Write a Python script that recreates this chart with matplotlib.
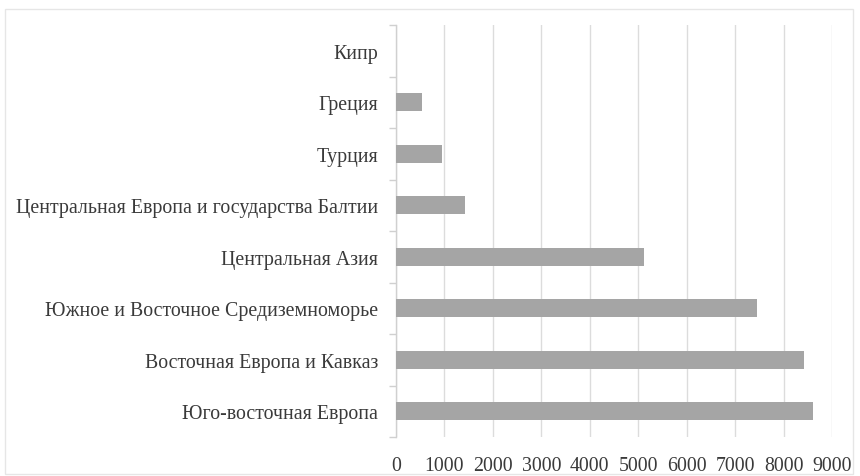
import matplotlib
matplotlib.use("Agg")
import matplotlib.pyplot as plt
from matplotlib.patches import Rectangle

categories = [
    "Юго-восточная Европа",
    "Восточная Европа и Кавказ",
    "Южное и Восточное Средиземноморье",
    "Центральная Азия",
    "Центральная Европа и государства Балтии",
    "Турция",
    "Греция",
    "Кипр",
]
values = [8616, 8423, 7452, 5117, 1432, 957, 530, 0]
xticks = [0, 1000, 2000, 3000, 4000, 5000, 6000, 7000, 8000, 9000]

plt.rcParams['font.family'] = ['Liberation Serif', 'DejaVu Serif']

fig = plt.figure(figsize=(8.6, 4.77), dpi=100)
ax = fig.add_axes([396/860, 1-438/477, (832-396)/860, (438-26)/477])

pos = list(range(len(categories)))
ax.barh(pos, values, height=0.35, color='#a5a5a5', edgecolor='none', linewidth=0, zorder=3)
ax.set_ylim(-0.5, len(categories)-0.5)
ax.set_xlim(0, 9000)
ax.set_xticks(xticks)
ax.set_xticklabels([str(t) for t in xticks])
ax.set_yticks(pos)
ax.set_yticklabels(categories)
ax.set_yticks([p + 0.5 for p in range(-1, len(categories))], minor=True)

ax.grid(axis='x', color='#dcdcdc', linewidth=1.0, zorder=0)
for s in ['top', 'right', 'bottom']:
    ax.spines[s].set_visible(False)
ax.spines['left'].set_color('#d0d0d0')
ax.spines['left'].set_linewidth(1.0)

ax.tick_params(axis='y', which='major', length=0, pad=13, labelsize=14.3, labelcolor='#3a3a3a')
ax.tick_params(axis='y', which='minor', length=5, color='#d0d0d0', width=1.0)
ax.tick_params(axis='x', length=0, pad=14, labelsize=14.3, labelcolor='#3a3a3a')

fig.patches.append(Rectangle((5/860, 2/477), 848/860, 465/477, transform=fig.transFigure,
                             fill=False, edgecolor='#e6e6e6', linewidth=1.0))

fig.savefig("out.png", dpi=100)
